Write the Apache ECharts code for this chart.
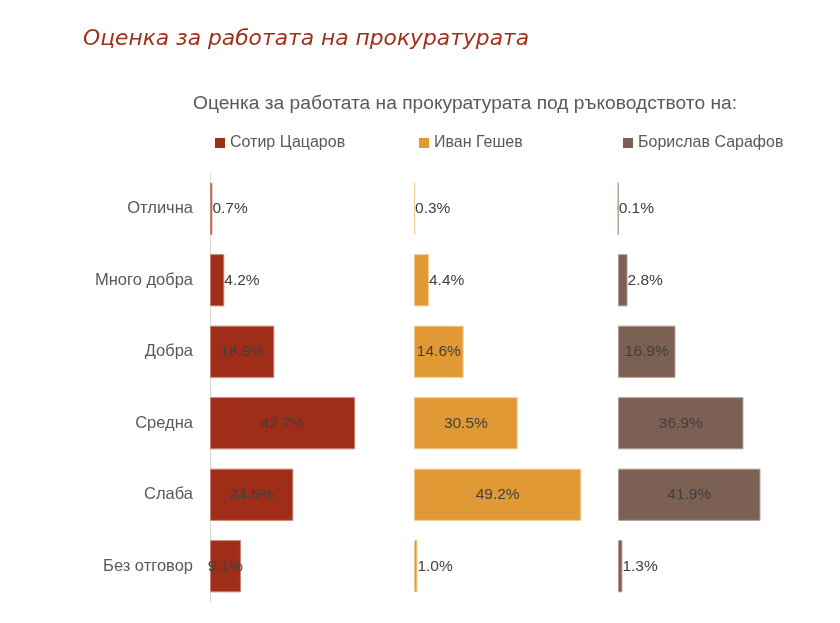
<!DOCTYPE html>
<html><head><meta charset="utf-8">
<script src="https://cdn.jsdelivr.net/npm/echarts@6/dist/echarts.min.js"></script>
<style>html,body{margin:0;padding:0;background:#fff}#c{width:840px;height:623px}</style>
</head><body><div id="c"></div>
<script>
const categories = ['Отлична','Много добра','Добра','Средна','Слаба','Без отговор'];
const seriesNames = ['Сотир Цацаров','Иван Гешев','Борислав Сарафов'];
const tsatsarov = [0.7, 4.2, 18.9, 42.7, 24.5, 9.1];
const geshev = [0.3, 4.4, 14.6, 30.5, 49.2, 1.0];
const sarafov = [0.1, 2.8, 16.9, 36.9, 41.9, 1.3];
const colors = ['#9F2D18','#E09934','#7C6053'];
const borderColors = ['#C9826F','#F0CB8E','#B59C90'];
const allValues = [tsatsarov, geshev, sarafov];

const chart = echarts.init(document.getElementById('c'));
const lefts = [210, 414, 618];
const grids = lefts.map(l => ({left: l, width: 204, top: 173, height: 429}));
const xAxes = lefts.map((l,i) => ({gridIndex: i, type: 'value', min: 0, max: 60, show: false}));
const yAxes = lefts.map((l,i) => ({
  gridIndex: i, type: 'category', data: categories, inverse: true,
  axisTick: {show: false},
  axisLine: {show: i === 0, lineStyle: {color: '#D9D9D9', width: 1}},
  axisLabel: {show: i === 0, color: '#595959', fontSize: 16.5, fontFamily: 'Liberation Sans', margin: 17}
}));
const series = allValues.map((vals, i) => ({
  type: 'bar', name: seriesNames[i], xAxisIndex: i, yAxisIndex: i,
  barCategoryGap: '27%',
  itemStyle: {color: colors[i], borderColor: borderColors[i], borderWidth: 1},
  data: vals.map(v => ({
    value: v,
    label: v < 5 ? {position: 'right', distance: 0} : {position: 'inside'}
  })),
  label: {show: true, color: '#404040', fontSize: 15.5, fontFamily: 'Liberation Sans',
    formatter: p => p.value.toFixed(1) + '%'}
}));
const legends = lefts.map((l,i) => ({
  data: [seriesNames[i]], left: l, top: 130, itemWidth: 10, itemHeight: 10,
  icon: 'rect', itemGap: 5,
  itemStyle: {borderWidth: 0},
  textStyle: {color: '#595959', fontSize: 16, fontFamily: 'Liberation Sans'}
}));
chart.setOption({
  animation: false,
  backgroundColor: '#fff',
  color: colors,
  title: [
    {text: 'Оценка за работата на прокуратурата', left: 78, top: 23,
      textStyle: {color: '#A0301A', fontSize: 21.8, fontStyle: 'italic', fontWeight: 'normal', fontFamily: 'DejaVu Sans'}},
    {text: 'Оценка за работата на прокуратурата под ръководството на:', left: 460, textAlign: 'center', top: 89,
      textStyle: {color: '#595959', fontSize: 19.2, fontWeight: 'normal', fontFamily: 'Liberation Sans'}}
  ],
  legend: legends,
  grid: grids, xAxis: xAxes, yAxis: yAxes, series: series
});
</script></body></html>
